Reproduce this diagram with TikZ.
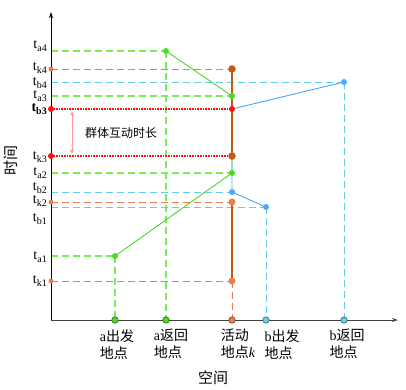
\documentclass[tikz,border=0pt]{standalone}
\usepackage{fontspec}
\setmainfont{Liberation Serif}
\newfontfamily\cjk{Noto Sans CJK SC}
\usetikzlibrary{arrows.meta}
\definecolor{gA}{HTML}{44DD22}
\definecolor{gD}{HTML}{77EE55}
\definecolor{oD}{HTML}{E8804A}
\definecolor{oK}{HTML}{C8581A}
\definecolor{bS}{HTML}{44AAFF}
\definecolor{bD}{HTML}{66CCEE}
\definecolor{rD}{HTML}{FF1010}
\definecolor{pk}{HTML}{FF9999}
\newcommand{\tl}[2]{t\raisebox{-3pt}{\fontsize{10}{10}\selectfont #2}}
\tikzset{
  lbl/.style={anchor=east,inner sep=0pt,font=\fontsize{14}{14}\selectfont},
  cjkl/.style={inner sep=0pt,font=\cjk\fontsize{14}{17}\selectfont,align=left},
  gdash/.style={gD,line width=1.2pt,dash pattern=on 7pt off 4pt},
  odash/.style={oD,line width=1pt,dash pattern=on 7pt off 4pt},
  bdash/.style={bD,line width=1pt,dash pattern=on 7pt off 4pt},
  rdot/.style={rD,line width=1.8pt,dash pattern=on 1pt off 0.6pt},
  dot/.style={circle,fill=#1,inner sep=0pt,minimum size=6pt},
  bdot/.style={circle,fill=#1,draw=black!60!#1,line width=0.5pt,inner sep=0pt,minimum size=6.5pt},
}
\begin{document}
\begin{tikzpicture}[x=1pt,y=-1pt]
\useasboundingbox (0,0) rectangle (406,389);
% coordinates
\coordinate (O) at (51,320);
\coordinate (Ytop) at (51,12);
\coordinate (Xend) at (398,320);
% axis y-level coordinates
\coordinate (ya4) at (51,51);
\coordinate (yk4) at (51,69);
\coordinate (yb4) at (51,82);
\coordinate (ya3) at (51,96);
\coordinate (yb3) at (51,109);
\coordinate (yk3) at (51,156);
\coordinate (ya2) at (51,173);
\coordinate (yb2) at (51,192);
\coordinate (yk2) at (51,202);
\coordinate (yb1) at (51,207);
\coordinate (ya1) at (51,256);
\coordinate (yk1) at (51,281);
% event points
\coordinate (A4) at (166,51);
\coordinate (K4) at (232,69);
\coordinate (B4) at (344,82);
\coordinate (A3) at (232,96);
\coordinate (B3) at (232,109);
\coordinate (K3) at (232,156);
\coordinate (A2) at (232,173);
\coordinate (B2) at (232,192);
\coordinate (K2) at (232,202);
\coordinate (B1) at (266,207);
\coordinate (A1) at (115,256);
\coordinate (K1) at (232,281);
% bottom
\coordinate (xa1) at (115,320);
\coordinate (xa2) at (166,320);
\coordinate (xk) at (232,320);
\coordinate (xb1) at (266,320);
\coordinate (xb2) at (344,320);

% dashed guides
\draw[gdash] (ya4) -- (A4);
\draw[gdash] (ya3) -- (A3);
\draw[gdash] (ya2) -- (A2);
\draw[gdash] (ya1) -- (A1);
\draw[gdash] (A4) -- (xa2);
\draw[gdash] (A1) -- (xa1);
\draw[odash] (yk4) -- (K4);
\draw[odash] (yk2) -- (K2);
\draw[odash] (yk1) -- (K1);
\draw[odash] (K1) -- (xk);
\draw[bdash] (yb4) -- (B4);
\draw[bdash] (yb2) -- (B2);
\draw[bdash] (yb1) -- (B1);
\draw[bdash] (B1) -- (xb1);
\draw[bdash] (B4) -- (xb2);
\draw[rdot] (yb3) -- (B3);
\draw[rdot] (yk3) -- (K3);

% trajectories
\draw[bS,line width=0.9pt] (B1) -- (B2) -- (B3) -- (B4);
\draw[gA,line width=0.9pt] (A1) -- (A2) -- (A3) -- (A4);
\draw[oK,line width=2.4pt] (K1) -- (K2);
\draw[oK,line width=2.4pt] (K3) -- (K4);

% axes
\draw[black,line width=1pt,-{Stealth[length=6pt,width=4pt]}] (O) -- (Ytop);
\draw[black!75,line width=1pt,-{Stealth[length=6pt,width=4pt]}] (O) -- (Xend);

% dots
\node[dot=gA] (dA4) at (A4) {};
\node[dot=gA] (dA3) at (A3) {};
\node[dot=gA] (dA2) at (A2) {};
\node[dot=gA] (dA1) at (A1) {};
\node[dot=bS] (dB4) at (B4) {};
\node[dot=rD] (dB3) at (B3) {};
\node[dot=bS] (dB2) at (B2) {};
\node[dot=bS] (dB1) at (B1) {};
\node[dot=oK,minimum size=7.5pt] (dK4) at (K4) {};
\node[dot=oK,minimum size=7.5pt] (dK3) at (K3) {};
\node[dot=oD,minimum size=7pt] (dK2) at (K2) {};
\node[dot=oD,minimum size=7pt] (dK1) at (K1) {};
\node[dot=oD,minimum size=5pt] (ak4) at (yk4) {};
\node[dot=oD,minimum size=5pt] (ak2) at (yk2) {};
\node[dot=oD,minimum size=5pt] (ak1) at (yk1) {};
\node[dot=rD] (ab3) at (yb3) {};
\node[dot=rD] (ak3) at (yk3) {};
\node[bdot=gA] (ba1) at (xa1) {};
\node[bdot=gA] (ba2) at (xa2) {};
\node[bdot=oD] (bk) at (xk) {};
\node[bdot=bD] (bb1) at (xb1) {};
\node[bdot=bD] (bb2) at (xb2) {};

% duration arrow
\coordinate (p1) at (72,111);
\coordinate (p2) at (72,154);
\draw[pk,line width=0.9pt,{Stealth[length=5pt,width=4pt]}-{Stealth[length=5pt,width=4pt]}] (p1) -- (p2);
\node[inner sep=0pt,font=\cjk\fontsize{12}{12}\selectfont,anchor=west] (dur) at (85,133) {群体互动时长};

% t labels
\node[lbl] (la4) at (47,46) {\tl{}{a4}};
\node[lbl] (lk4) at (47,68) {\tl{}{k4}};
\node[lbl] (lb4) at (47,83) {\tl{}{b4}};
\node[lbl] (la3) at (47,96) {\tl{}{a3}};
\node[lbl] (lb3) at (47,109) {\textbf{\tl{}{b3}}};
\node[lbl] (lk3) at (47,157) {\tl{}{k3}};
\node[lbl] (la2) at (47,173) {\tl{}{a2}};
\node[lbl] (lb2) at (47,188) {\tl{}{b2}};
\node[lbl] (lk2) at (47,201) {\tl{}{k2}};
\node[lbl] (lb1) at (47,219) {\tl{}{b1}};
\node[lbl] (la1) at (47,257) {\tl{}{a1}};
\node[lbl] (lk1) at (47,281) {\tl{}{k1}};

% axis titles
\node[inner sep=0pt,font=\cjk\fontsize{15}{15}\selectfont,rotate=90] (tt) at (11,160) {时间};
\node[inner sep=0pt,font=\cjk\fontsize{15}{15}\selectfont] (st) at (213,378) {空间};

% x labels
\node[cjkl,anchor=north] (xl1) at (117,329) {{\rmfamily a}出发\\地点};
\node[cjkl,anchor=north] (xl2) at (171,329) {{\rmfamily a}返回\\地点};
\node[cjkl,anchor=north] (xl3) at (238,329) {活动\\地点{\rmfamily\itshape k}};
\node[cjkl,anchor=north] (xl4) at (282,329) {{\rmfamily b}出发\\地点};
\node[cjkl,anchor=north] (xl5) at (347,329) {{\rmfamily b}返回\\地点};
\end{tikzpicture}
\end{document}
